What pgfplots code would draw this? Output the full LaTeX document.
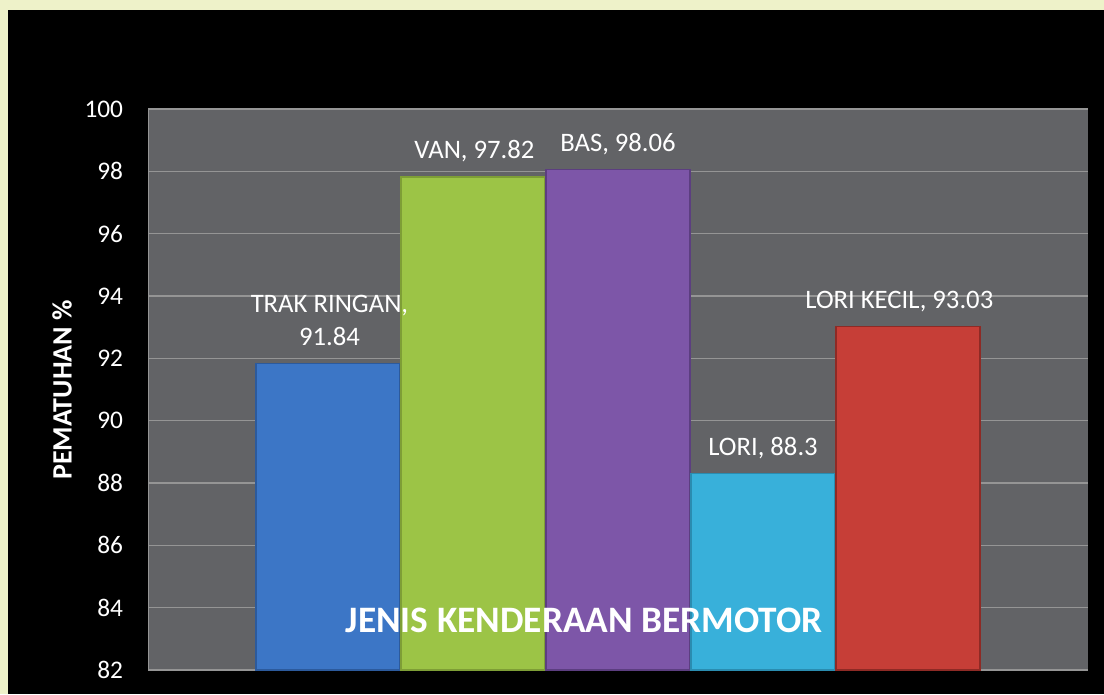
\documentclass[border=0pt]{standalone}
\usepackage{pgfplots}
\pgfplotsset{compat=1.18}
\usepackage{fontspec}
\setmainfont{Carlito}
\definecolor{bgbeige}{HTML}{EEF2C9}
\definecolor{plotgray}{HTML}{626366}
\definecolor{gridgray}{HTML}{959595}
\definecolor{cblue}{HTML}{3C76C6}
\definecolor{cblueD}{HTML}{2C5A9C}
\definecolor{cgreen}{HTML}{9CC446}
\definecolor{cgreenD}{HTML}{7E9E36}
\definecolor{cpurple}{HTML}{7D56A8}
\definecolor{cpurpleD}{HTML}{5C3E80}
\definecolor{ccyan}{HTML}{38B0DA}
\definecolor{ccyanD}{HTML}{2A8CB0}
\definecolor{cred}{HTML}{C63E37}
\definecolor{credD}{HTML}{8E2A25}
\begin{document}
\begin{tikzpicture}[x=0.75pt,y=0.75pt,
  lbl/.style={anchor=base, yshift=13.5pt, inner sep=0pt, text=white, font=\fontsize{20}{24.75}\selectfont, align=center}]
\useasboundingbox (0,0) rectangle (1104,694);
\fill[bgbeige] (0,0) rectangle (1104,694);
\fill[black] (8,0) rectangle (1104,684);
\begin{axis}[
  at={(111pt,18pt)}, anchor=south west,
  scale only axis, width=705pt, height=420.75pt,
  xmin=-1.241, xmax=5.241, ymin=82, ymax=100,
  ytick={82,84,...,100}, xtick=\empty,
  axis background/.style={fill=plotgray},
  ymajorgrids, grid style={gridgray, line width=1.2pt},
  axis line style={draw=none},
  major tick length=0pt,
  /pgf/number format/assume math mode=true,
  yticklabel style={font=\fontsize{19}{19}\selectfont, text=white, inner sep=0pt, xshift=-18.5pt},
]
\draw[gridgray, line width=1.2pt] (rel axis cs:0,0) -- (rel axis cs:0,1);
\addplot[ybar, bar width=0.993, bar shift=0pt, fill=cblue, draw=cblueD, line width=1pt] coordinates {(0,91.84)};
\addplot[ybar, bar width=0.993, bar shift=0pt, fill=cgreen, draw=cgreenD, line width=1pt] coordinates {(1,97.82)};
\addplot[ybar, bar width=0.993, bar shift=0pt, fill=cpurple, draw=cpurpleD, line width=1pt] coordinates {(2,98.06)};
\addplot[ybar, bar width=0.993, bar shift=0pt, fill=ccyan, draw=ccyanD, line width=1pt] coordinates {(3,88.3)};
\addplot[ybar, bar width=0.993, bar shift=0pt, fill=cred, draw=credD, line width=1pt] coordinates {(4,93.03)};
\node[lbl] at (axis cs:0.01,91.84) {TRAK RINGAN,\\91.84};
\node[lbl] at (axis cs:1.01,97.82) {VAN, 97.82};
\node[lbl] at (axis cs:2,98.06) {BAS, 98.06};
\node[lbl] at (axis cs:3,88.3) {LORI, 88.3};
\node[lbl] at (axis cs:3.94,93.03) {LORI KECIL, 93.03};
\end{axis}
\node[text=white, inner sep=0pt, font=\bfseries\fontsize{28}{28}\selectfont] at (584,74) {JENIS KENDERAAN BERMOTOR};
\node[text=white, inner sep=0pt, rotate=90, font=\bfseries\fontsize{21}{21}\selectfont] at (62,304) {PEMATUHAN \%};
\end{tikzpicture}
\end{document}
